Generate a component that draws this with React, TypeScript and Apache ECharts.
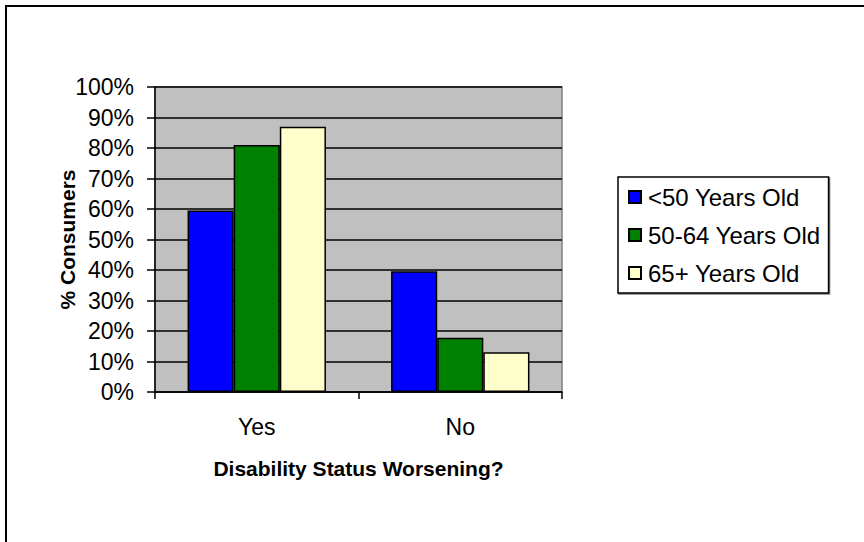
import React, { useEffect, useRef } from "react";
import * as echarts from "echarts";

const categories = ["Yes", "No"];
const seriesNames = ["<50 Years Old", "50-64 Years Old", "65+ Years Old"];
const under50 = [59.5, 39.6];
const age50to64 = [81, 17.8];
const age65plus = [87, 13];
const seriesColors = ["#0000FF", "#008000", "#FFFFCC"];
const yTicks = { min: 0, max: 100, interval: 10 };

const FONT = "'Liberation Sans', Arial, sans-serif";

export default function App() {
  const ref = useRef<HTMLDivElement>(null);
  useEffect(() => {
    if (!ref.current) return;
    const chart = echarts.init(ref.current, null, { renderer: "svg" });
    const values = [under50, age50to64, age65plus];
    chart.setOption({
      animation: false,
      backgroundColor: "#FFFFFF",
      textStyle: { fontFamily: FONT, color: "#000" },
      graphic: [
        {
          type: "rect",
          shape: { x: 6, y: 6, width: 1000, height: 1000 },
          style: { fill: "none", stroke: "#000", lineWidth: 2 },
          silent: true,
        },
      ],
      grid: {
        left: 155,
        top: 87,
        right: 302,
        bottom: 150,
        show: true,
        backgroundColor: "#C0C0C0",
        borderColor: "#808080",
        borderWidth: 1.5,
      },
      legend: {
        orient: "vertical",
        left: 618,
        top: 177,
        data: seriesNames,
        icon: "rect",
        itemWidth: 12,
        itemHeight: 12,
        itemGap: 14,
        padding: [8, 8, 8, 10],
        borderColor: "#000",
        borderWidth: 1.5,
        backgroundColor: "#FFFFFF",
        shadowColor: "rgba(0,0,0,0.5)",
        shadowOffsetX: 1,
        shadowOffsetY: 1,
        textStyle: { fontFamily: FONT, fontSize: 24, lineHeight: 24, color: "#000", padding: [0, 0, 0, 2] },
      },
      xAxis: {
        type: "category",
        data: categories,
        name: "Disability Status Worsening?",
        nameLocation: "middle",
        nameGap: 66,
        nameMoveOverlap: false,
        nameTextStyle: { fontFamily: FONT, fontSize: 21, fontWeight: "bold", color: "#000" },
        axisLine: { show: true, lineStyle: { color: "#000", width: 1.5 } },
        axisTick: { show: true, length: 7, lineStyle: { color: "#000", width: 1.5 } },
        axisLabel: { fontFamily: FONT, fontSize: 23, color: "#000", margin: 23 },
        splitLine: { show: false },
      },
      yAxis: {
        type: "value",
        min: yTicks.min,
        max: yTicks.max,
        interval: yTicks.interval,
        name: "% Consumers",
        nameLocation: "middle",
        nameGap: 77,
        nameMoveOverlap: false,
        nameRotate: 90,
        nameTextStyle: { fontFamily: FONT, fontSize: 21, fontWeight: "bold", color: "#000" },
        axisLine: { show: true, lineStyle: { color: "#000", width: 1.5 } },
        axisTick: { show: true, length: 8, lineStyle: { color: "#000", width: 1.5 } },
        axisLabel: { fontFamily: FONT, fontSize: 23, color: "#000", margin: 21, formatter: "{value}%" },
        splitLine: { show: true, lineStyle: { color: "#000", width: 1.5 } },
      },
      series: seriesNames.map((name, i) => ({
        name,
        type: "bar",
        data: values[i],
        barGap: "0%",
        barCategoryGap: "32%",
        itemStyle: { color: seriesColors[i], borderColor: "#000", borderWidth: 1.5 },
      })),
    });
    return () => chart.dispose();
  }, []);
  return (
    <div
      ref={ref}
      style={{ position: "fixed", left: 0, top: 0, width: 864, height: 542 }}
    />
  );
}
